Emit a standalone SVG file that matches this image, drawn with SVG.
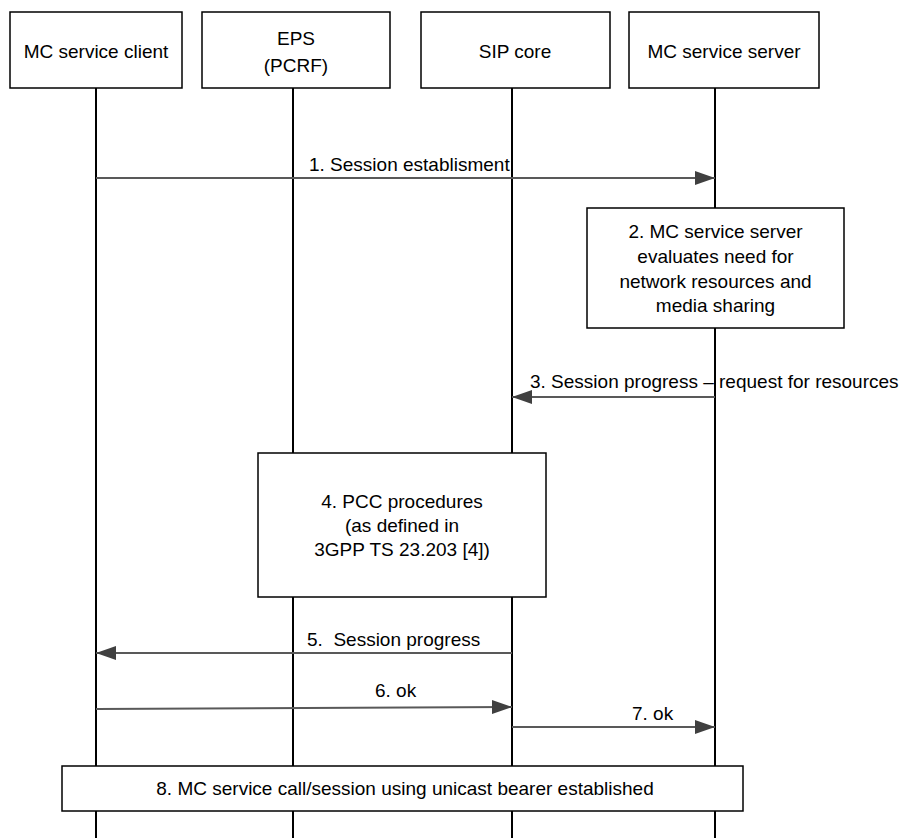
<svg xmlns="http://www.w3.org/2000/svg" width="904" height="838" viewBox="0 0 904 838">
<style>
  .box { fill: #ffffff; stroke: #000000; stroke-width: 1.5; }
  .life { stroke: #000000; stroke-width: 2; fill: none; }
  .msg { stroke: #595959; stroke-width: 2; fill: none; marker-end: url(#arrow); }
  text { font-family: "Liberation Sans", Arial, sans-serif; font-size: 19px; fill: #000000; }
  .c { text-anchor: middle; }
</style>
<defs>
  <marker id="arrow" markerUnits="userSpaceOnUse" markerWidth="22" markerHeight="16" refX="20" refY="7" orient="auto">
    <path d="M0,0 L20,7 L0,14 Z" fill="#404040"/>
  </marker>
</defs>
<rect x="0" y="0" width="904" height="838" fill="#ffffff"/>

<g id="lifelines">
  <line class="life" x1="96" y1="88" x2="96" y2="838"/>
  <line class="life" x1="293" y1="88" x2="293" y2="838"/>
  <line class="life" x1="512" y1="88" x2="512" y2="838"/>
  <line class="life" x1="715" y1="88" x2="715" y2="838"/>
</g>

<g id="client">
  <rect class="box" x="10" y="12" width="172" height="76"/>
  <text class="c" x="96" y="58">MC service client</text>
</g>
<g id="eps">
  <rect class="box" x="202" y="12" width="188" height="76"/>
  <text class="c" x="296" y="45">EPS</text>
  <text class="c" x="296" y="72">(PCRF)</text>
</g>
<g id="sipcore">
  <rect class="box" x="421" y="12" width="189" height="76"/>
  <text class="c" x="515" y="58">SIP core</text>
</g>
<g id="server">
  <rect class="box" x="629" y="12" width="190" height="76"/>
  <text class="c" x="724" y="58">MC service server</text>
</g>

<g id="connectors">
  <line class="msg" x1="96" y1="178" x2="715" y2="178"/>
  <line class="msg" x1="715" y1="397" x2="512" y2="397"/>
  <line class="msg" x1="512" y1="653" x2="96" y2="653"/>
  <line class="msg" x1="96" y1="709" x2="512" y2="707"/>
  <line class="msg" x1="512" y1="727" x2="715" y2="727"/>
  <text x="309" y="171">1. Session establisment</text>
  <text x="530" y="388">3. Session progress – request for resources</text>
  <text x="307" y="646" xml:space="preserve">5.  Session progress</text>
  <text x="375" y="697">6. ok</text>
  <text x="632" y="720">7. ok</text>
</g>

<g id="step2">
  <rect class="box" x="587" y="208" width="257" height="120"/>
  <text class="c" x="715.5" y="238">2. MC service server</text>
  <text class="c" x="715.5" y="263">evaluates need for</text>
  <text class="c" x="715.5" y="288">network resources and</text>
  <text class="c" x="715.5" y="312">media sharing</text>
</g>

<g id="step4">
  <rect class="box" x="258" y="453" width="288" height="144"/>
  <text class="c" x="402" y="508">4. PCC procedures</text>
  <text class="c" x="402" y="532">(as defined in</text>
  <text class="c" x="402" y="556">3GPP TS 23.203 [4])</text>
</g>

<g id="step8">
  <rect class="box" x="62" y="766" width="681" height="45"/>
  <text class="c" x="405" y="795">8. MC service call/session using unicast bearer established</text>
</g>
</svg>
